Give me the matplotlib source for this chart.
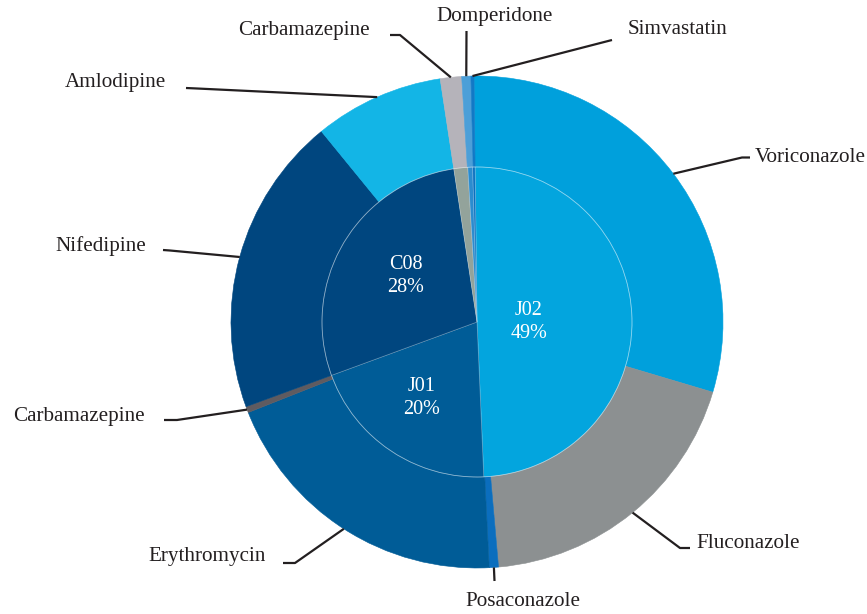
import numpy as np
import matplotlib
matplotlib.use('Agg')
import matplotlib.pyplot as plt
from matplotlib.patches import Circle

# outer ring: active substances
outer_labels = ['Voriconazole', 'Fluconazole', 'Posaconazole', 'Erythromycin',
                'Carbamazepine', 'Nifedipine', 'Amlodipine', 'Carbamazepine',
                'Domperidone', 'Simvastatin']
outer_values = [29.8, 19.0, 0.6, 19.8, 0.4, 19.7, 8.5, 1.4, 0.6, 0.2]
outer_colors = ['#00a0dc', '#8c9091', '#0b6ebe', '#005c97', '#5f5b60',
                '#00467f', '#13b5e6', '#b5b3ba', '#4c9fd8', '#1279c6']

# inner pie: ATC groups
inner_codes = ['J02', 'J01', 'C08', 'N03', 'A03', 'C10']
inner_values = [49.5, 20.1, 28.2, 1.45, 0.5, 0.25]
inner_pct = ['49%', '20%', '28%', '', '', '']
inner_colors = ['#03a5de', '#005c97', '#00467f', '#93a39b', '#2b8ccf', '#0a6fbf']

W, H = 867, 614
CX, CY = 477, H - 322
R_OUT, R_IN = 246, 155
START = 90.7

plt.rcParams['font.family'] = ['Liberation Serif', 'DejaVu Serif']

fig = plt.figure(figsize=(W / 100, H / 100), dpi=100)
ax = fig.add_axes([0, 0, 1, 1])

outer, _ = ax.pie(outer_values, colors=outer_colors, radius=R_OUT, center=(CX, CY),
                  startangle=START, counterclock=False,
                  wedgeprops=dict(linewidth=0.4))
for w in outer:
    w.set_edgecolor(w.get_facecolor())

inner, _ = ax.pie(inner_values, colors=inner_colors, radius=R_IN, center=(CX, CY),
                  startangle=START, counterclock=False,
                  wedgeprops=dict(edgecolor=(1, 1, 1, 0.3), linewidth=0.5))
ax.add_patch(Circle((CX, CY), R_IN, fill=False, edgecolor=(1, 1, 1, 0.4),
                    lw=0.6, zorder=5))

# inner labels (pixel positions, y from top)
inner_pos = {'J02': (529, 322), 'J01': (422, 398), 'C08': (406, 276)}
for code, pct in zip(inner_codes, inner_pct):
    if code in inner_pos:
        x, y = inner_pos[code]
        ax.text(x, H - y, f'{code}\n{pct}', color='white', fontsize=14.5,
                ha='center', va='center', linespacing=1.25, zorder=6)

# leader lines: elbow, end, text position, alignment (pixels, y from top)
layout = [
    ((742, 157.5), (750, 157.5), (755, 157), 'left'),
    ((680, 548), (690, 548), (696, 543), 'left'),
    ((494.5, 581), (494.5, 581), (523, 601), 'center'),
    ((295, 563), (283, 563), (266, 557), 'right'),
    ((177, 420), (164, 420), (145, 417), 'right'),
    ((170, 250.5), (163, 250), (146, 246), 'right'),
    ((195, 88.4), (186, 88), (166, 83), 'right'),
    ((400, 35), (390, 35), (370, 31), 'right'),
    ((466.5, 31), (466.5, 31), (495, 17), 'center'),
    ((612, 40), (612, 40), (628, 30), 'left'),
]
for w, name, (elb, end, tpos, ha) in zip(outer, outer_labels, layout):
    theta = np.deg2rad((w.theta1 + w.theta2) / 2)
    ax0 = CX + R_OUT * np.cos(theta)
    ay0 = CY + R_OUT * np.sin(theta)
    ax.plot([ax0, elb[0], end[0]], [ay0, H - elb[1], H - end[1]],
            color='#231f20', lw=1.6, solid_capstyle='butt', zorder=4)
    ax.text(tpos[0], H - tpos[1], name, fontsize=15.2, color='#231f20',
            ha=ha, va='center')

ax.set_xlim(0, W)
ax.set_ylim(0, H)
ax.axis('off')
fig.savefig('out.png', dpi=100)
